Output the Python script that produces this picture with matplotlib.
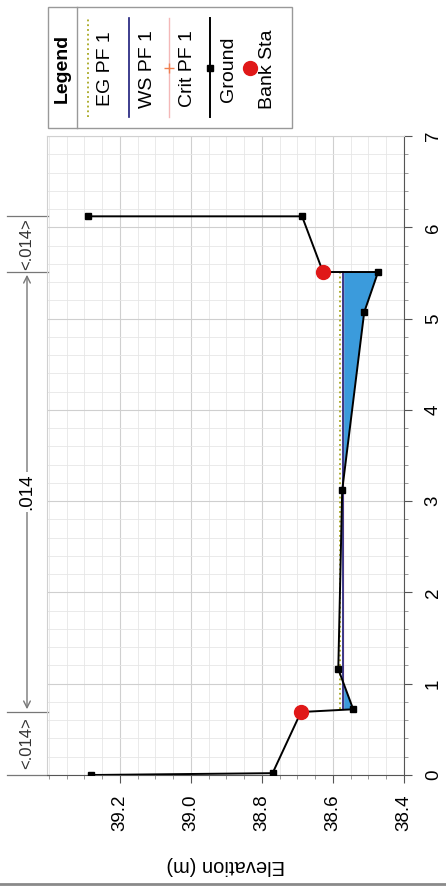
import numpy as np
import matplotlib
matplotlib.use('Agg')
import matplotlib.pyplot as plt
from matplotlib.lines import Line2D
from matplotlib.patches import Rectangle
import matplotlib.transforms as mtransforms

plt.rcParams['font.family'] = ['Liberation Sans', 'DejaVu Sans']

# cross-section data (station m, elevation m)
ground_sta = [0.0, 0.02, 0.69, 0.72, 1.16, 3.12, 5.07, 5.51, 5.51, 6.12, 6.12]
ground_elev = [39.28, 38.77, 38.69, 38.543, 38.585, 38.574, 38.512, 38.473, 38.628, 38.687, 39.29]
bank_sta = [0.69, 5.51]
bank_elev = [38.69, 38.628]

# channel part used for the water fill
chan_sta = [0.72, 1.16, 3.12, 5.07, 5.51]
chan_elev = [38.543, 38.585, 38.574, 38.512, 38.473]

ws_elev = 38.571
eg_elev = 38.579
crit_elev = 38.571
wet_sta = [0.72, 5.51]

n_sta = [0.0, 0.69, 5.51, 6.12]
n_vals = ['.014', '.014', '.014']

elev_ticks = [38.4, 38.6, 38.8, 39.0, 39.2]
sta_ticks = [0, 1, 2, 3, 4, 5, 6, 7]

W, H = 446, 886
fig = plt.figure(figsize=(W / 100, H / 100), dpi=100)


def px(x, y):
    return x / W, 1 - y / H


ax_l, ax_r, ax_t, ax_b = 47, 404, 136, 775
ax = fig.add_axes([ax_l / W, 1 - ax_b / H, (ax_r - ax_l) / W, (ax_b - ax_t) / H])

ax.set_xlim(39.405, 38.4)
ax.set_ylim(0, 7)

# water fill
ce = np.array(chan_elev)
cs = np.array(chan_sta)
ax.fill_betweenx(cs, ce, ws_elev, where=ce < ws_elev, interpolate=True,
                 color='#3b9bdc', zorder=2, lw=0)
ax.plot([crit_elev, crit_elev], wet_sta, color='#f4b8b8', lw=1, zorder=2.5)
ax.plot([ws_elev, ws_elev], wet_sta, color='#1c1c7a', lw=1.2, zorder=3)
ax.plot([eg_elev, eg_elev], wet_sta, color='#a8a820', lw=1.3, ls=':', zorder=3)

ax.plot(ground_elev, ground_sta, color='black', lw=1.4, marker='s', ms=5, zorder=5)
ax.plot(bank_elev, bank_sta, 'o', color='#e01818', ms=10, zorder=6)

# ticks / grid
ax.yaxis.tick_right()
ax.set_yticks(sta_ticks)
ax.set_yticks(np.arange(0, 7.01, 0.2), minor=True)
ax.set_xticks(elev_ticks)
ax.set_xticklabels(['%.1f' % v for v in elev_ticks])
ax.set_xticks(np.arange(38.4, 39.401, 0.05), minor=True)
ax.tick_params(axis='both', which='major', direction='out', length=6, color='#555555', labelsize=13.5)
ax.tick_params(axis='both', which='minor', direction='out', length=3, color='#888888')
ax.tick_params(axis='y', labelrotation=90, pad=9)
ax.tick_params(axis='x', labelrotation=90, pad=8)
for lbl in ax.get_yticklabels():
    lbl.set_va('center')
ax.grid(True, which='major', color='#cfcfcf', lw=0.8)
ax.grid(True, which='minor', color='#e6e6e6', lw=0.6)
ax.set_axisbelow(True)

for s in ['right', 'bottom']:
    ax.spines[s].set_color('#555555')
for s in ['top', 'left']:
    ax.spines[s].set_color('#d0d0d0')

ax.set_xlabel('Elevation (m)', fontsize=14.5, rotation=180)
ax.xaxis.set_label_coords(0.5, -(865 - ax_b) / (ax_b - ax_t))
ax.xaxis.label.set_va('center')

# Manning's n annotations
trans = mtransforms.blended_transform_factory(ax.transAxes, ax.transData)
xf = (27 - ax_l) / (ax_r - ax_l)
for s in n_sta:
    ax.plot([(7 - ax_l) / (ax_r - ax_l), 0.003], [s, s], color='#777777', lw=0.9,
            transform=trans, clip_on=False)
ax.annotate('', xy=(xf, n_sta[1]), xytext=(xf, n_sta[2]), xycoords=trans, textcoords=trans,
            arrowprops=dict(arrowstyle='<->', color='#777777', lw=1, mutation_scale=12))
ax.text(xf, (n_sta[1] + n_sta[2]) / 2, n_vals[1], transform=trans, rotation=90,
        ha='center', va='center', fontsize=13.5,
        bbox=dict(facecolor='white', edgecolor='none', pad=1))
for i in [0, 2]:
    ax.text(xf, (n_sta[i] + n_sta[i + 1]) / 2, '<' + n_vals[i] + '>', transform=trans,
            rotation=90, ha='center', va='center', fontsize=12, color='#333333')

# legend (drawn rotated)
x0, y0 = px(48, 128)
x1, y1 = px(292, 7)
fig.add_artist(Rectangle((x0, y0), x1 - x0, y1 - y0, transform=fig.transFigure,
                         facecolor='white', edgecolor='#999999', lw=1))
fig.add_artist(Line2D([px(77, 0)[0]] * 2, [y0, y1], color='#999999', lw=1))
fig.text(*px(62, 68), 'Legend', rotation=90, ha='center', va='center',
         fontsize=14, fontweight='bold')
ly0, ly1 = px(0, 117)[1], px(0, 18)[1]
entries = [
    ('EG PF 1', 88, dict(color='#a8a820', lw=1.3, ls=':'), None),
    ('WS PF 1', 129, dict(color='#1c1c7a', lw=1.2), None),
    ('Crit PF 1', 169, dict(color='#f4b8b8', lw=1), dict(marker='+', color='#f08050', ms=7)),
    ('Ground', 210, dict(color='black', lw=1.4), dict(marker='s', color='black', ms=5)),
    ('Bank Sta', 250, None, dict(marker='o', color='#e01818', ms=10)),
]
for label, lx, lstyle, mstyle in entries:
    fx = px(lx, 0)[0]
    if lstyle:
        fig.add_artist(Line2D([fx, fx], [ly0, ly1], **lstyle))
    if mstyle:
        fig.add_artist(Line2D([fx], [px(0, 68)[1]], ls='none', **mstyle))
    fig.text(px(lx + 18, 0)[0], px(0, 69)[1], label, rotation=90, ha='center',
             va='center', fontsize=14)

fig.add_artist(Line2D([0, 1], [0.002, 0.002], color='#8a8a8a', lw=2))

fig.savefig('out.png', dpi=100)
